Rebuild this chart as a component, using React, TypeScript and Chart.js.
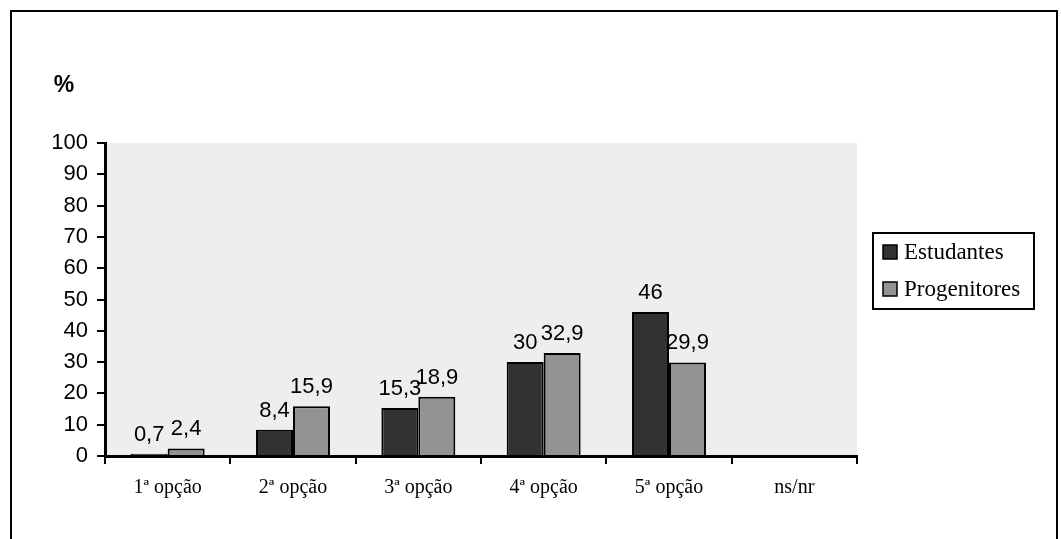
import React, { useEffect, useRef } from 'react';
import { Chart, registerables } from 'chart.js';

Chart.register(...registerables);

const categories = ['1ª opção', '2ª opção', '3ª opção', '4ª opção', '5ª opção', 'ns/nr'];
const estudantes: (number | null)[] = [0.7, 8.4, 15.3, 30, 46, null];
const progenitores: (number | null)[] = [2.4, 15.9, 18.9, 32.9, 29.9, null];
const seriesNames = ['Estudantes', 'Progenitores'];
const seriesColors = ['#323232', '#939393'];
const yMin = 0;
const yMax = 100;
const yStep = 10;
const yUnit = '%';

const SANS = '"Liberation Sans", Arial, sans-serif';
const SERIF = '"Liberation Serif", "Times New Roman", serif';

const decorPlugin = {
  id: 'decor',
  beforeDraw(chart: any) {
    const { ctx, chartArea } = chart;
    ctx.save();
    ctx.fillStyle = '#eeeeee';
    ctx.fillRect(chartArea.left, chartArea.top, chartArea.right - chartArea.left, chartArea.bottom - chartArea.top);
    // outer frame
    ctx.strokeStyle = '#000';
    ctx.lineWidth = 2;
    ctx.beginPath();
    ctx.moveTo(11, chart.height + 5);
    ctx.lineTo(11, 11);
    ctx.lineTo(1057, 11);
    ctx.lineTo(1057, chart.height + 5);
    ctx.stroke();
    ctx.restore();
  },
  afterDatasetsDraw(chart: any) {
    const { ctx } = chart;
    ctx.save();
    ctx.font = `22px ${SANS}`;
    ctx.fillStyle = '#000';
    ctx.textAlign = 'center';
    ctx.textBaseline = 'alphabetic';
    chart.data.datasets.forEach((ds: any, di: number) => {
      const meta = chart.getDatasetMeta(di);
      meta.data.forEach((el: any, i: number) => {
        const v = ds.data[i];
        if (v == null) return;
        ctx.fillText(String(v).replace('.', ','), el.x, el.y - 13);
      });
    });
    ctx.restore();
  },
  afterDraw(chart: any) {
    const { ctx, chartArea } = chart;
    ctx.save();
    // unit label
    ctx.font = `bold 23px ${SANS}`;
    ctx.fillStyle = '#000';
    ctx.textAlign = 'center';
    ctx.textBaseline = 'middle';
    ctx.fillText(yUnit, chartArea.left - 41, 86);
    // legend
    const lx = chartArea.right + 16;
    const ly = 233;
    const lw = 161;
    const lh = 76;
    ctx.fillStyle = '#fff';
    ctx.fillRect(lx, ly, lw, lh);
    ctx.strokeStyle = '#000';
    ctx.lineWidth = 2;
    ctx.strokeRect(lx, ly, lw, lh);
    ctx.font = `23px ${SERIF}`;
    ctx.textAlign = 'left';
    ctx.textBaseline = 'middle';
    chart.data.datasets.forEach((ds: any, di: number) => {
      const cy = ly + 19 + di * 37;
      ctx.fillStyle = ds.backgroundColor;
      ctx.fillRect(lx + 10, cy - 7, 14, 14);
      ctx.lineWidth = 1.5;
      ctx.strokeRect(lx + 10, cy - 7, 14, 14);
      ctx.fillStyle = '#000';
      ctx.fillText(ds.label, lx + 31, cy + 1);
    });
    ctx.restore();
  },
};

export default function App() {
  const ref = useRef<HTMLCanvasElement | null>(null);

  useEffect(() => {
    if (!ref.current) return;
    const chart = new Chart(ref.current, {
      type: 'bar',
      data: {
        labels: categories,
        datasets: [
          {
            label: seriesNames[0],
            data: estudantes,
            backgroundColor: seriesColors[0],
            borderColor: '#000',
            borderWidth: 2,
            categoryPercentage: 0.59,
            barPercentage: 1,
          },
          {
            label: seriesNames[1],
            data: progenitores,
            backgroundColor: seriesColors[1],
            borderColor: '#000',
            borderWidth: 2,
            categoryPercentage: 0.59,
            barPercentage: 1,
          },
        ] as any,
      },
      options: {
        animation: false,
        responsive: true,
        maintainAspectRatio: false,
        layout: { padding: { left: 0, top: 143, right: 204, bottom: 0 } },
        plugins: {
          legend: { display: false },
          tooltip: { enabled: false },
          title: { display: false },
        },
        scales: {
          x: {
            offset: true,
            grid: {
              offset: true,
              drawOnChartArea: false,
              drawTicks: true,
              tickLength: 8,
              color: '#000',
              lineWidth: 2,
            },
            border: { display: true, color: '#000', width: 3 },
            ticks: {
              color: '#000',
              font: { family: SERIF, size: 20 },
              padding: 12,
              maxRotation: 0,
            },
            afterFit: (scale: any) => {
              scale.height = 83;
            },
          },
          y: {
            min: yMin,
            max: yMax,
            grid: {
              drawOnChartArea: false,
              drawTicks: true,
              tickLength: 8,
              color: '#000',
              lineWidth: 2,
            },
            border: { display: true, color: '#000', width: 3 },
            ticks: {
              stepSize: yStep,
              color: '#000',
              font: { family: SANS, size: 22 },
              padding: 9,
            },
            afterFit: (scale: any) => {
              scale.width = 105;
            },
          },
        },
      },
      plugins: [decorPlugin],
    });
    return () => chart.destroy();
  }, []);

  return (
    <div style={{ position: 'fixed', left: 0, top: 0, width: 1061, height: 539, background: '#fff' }}>
      <canvas ref={ref} />
    </div>
  );
}
